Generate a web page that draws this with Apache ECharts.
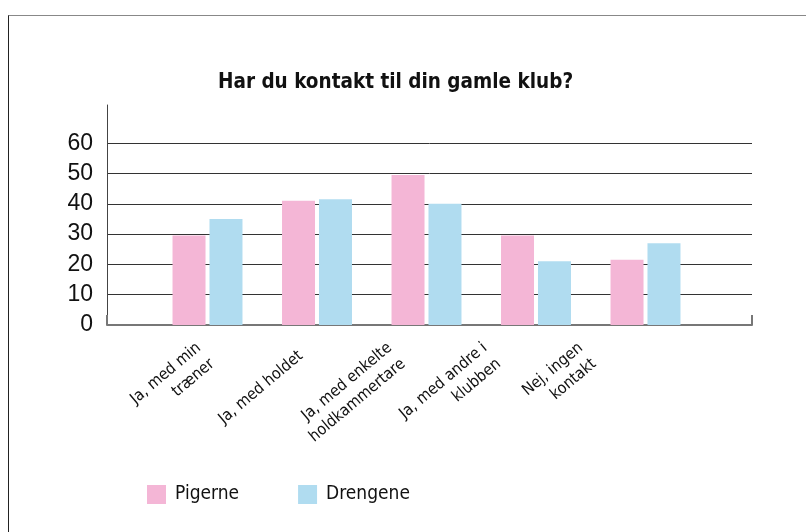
<!DOCTYPE html>
<html>
<head>
<meta charset="utf-8">
<script src="https://cdn.jsdelivr.net/npm/echarts@6/dist/echarts.min.js"></script>
<style>
  html, body { margin: 0; padding: 0; background: #fff; }
  #frame {
    position: absolute; left: 8px; top: 15px; width: 798px; height: 517px;
    border-top: 1px solid #888; border-left: 1px solid #222; box-sizing: border-box;
  }
  #chart { position: absolute; left: 0; top: 0; width: 806px; height: 532px; }
</style>
</head>
<body>
<div id="frame"></div>
<div id="chart"></div>
<script>
const title = 'Har du kontakt til din gamle klub?';
const categories = [
  'Ja, med min\ntræner',
  'Ja, med holdet',
  'Ja, med enkelte\nholdkammertare',
  'Ja, med andre i\nklubben',
  'Nej, ingen\nkontakt'
];
const seriesNames = ['Pigerne', 'Drengene'];
const pigerne = [29.5, 41, 49.5, 29.5, 21.5];
const drengene = [35, 41.5, 40, 21, 27];
const yMin = 0;
const yMax = 72.6;     // axis line runs a bit above the last labelled tick
const yStep = 10;
const yLabelMax = 60;

const narrow = '"DejaVu Sans Condensed", "Liberation Sans", sans-serif';
const plain = '"Liberation Sans", Arial, sans-serif';
const pink = '#f4b6d6';
const blue = '#b0dcf0';

const chart = echarts.init(document.getElementById('chart'));

// grid 0: frame axes + gridlines, grid 1: bars, grid 2: category labels
const option = {
  animation: false,
  textStyle: { fontFamily: narrow },
  title: {
    text: title,
    left: 218,
    top: 72,
    padding: 0,
    textStyle: { fontFamily: narrow, fontWeight: 'bold', fontSize: 20.5, color: '#111' }
  },
  legend: {
    data: seriesNames,
    left: 147,
    top: 485,
    padding: 0,
    icon: 'rect',
    itemWidth: 19,
    itemHeight: 19,
    itemGap: 59,
    textStyle: { fontFamily: narrow, fontSize: 19, color: '#111', padding: [0, 0, 0, 4] }
  },
  grid: [
    { left: 107, right: 54, top: 105, bottom: 207 },
    { left: 152.75, right: 105.75, top: 105, bottom: 207 },
    { left: 157.75, right: 170.75, top: 105, bottom: 207 }
  ],
  xAxis: [
    {
      gridIndex: 0, type: 'value', min: 0, max: 1, interval: 1,
      axisLine: { show: true, lineStyle: { color: '#777', width: 2 } },
      axisTick: { show: true, inside: true, length: 10, lineStyle: { color: '#777', width: 2 } },
      axisLabel: { show: false },
      splitLine: { show: false }
    },
    {
      gridIndex: 1, type: 'category', data: categories,
      axisLine: { show: false }, axisTick: { show: false }, axisLabel: { show: false }
    },
    {
      gridIndex: 2, type: 'category', data: categories,
      axisLine: { show: false }, axisTick: { show: false },
      axisLabel: {
        interval: 0, rotate: 40, margin: 29,
        fontFamily: narrow, fontSize: 16, lineHeight: 21, color: '#111'
      }
    }
  ],
  yAxis: [
    {
      gridIndex: 0, type: 'value', min: yMin, max: yMax, interval: yStep,
      axisLine: { show: true, lineStyle: { color: '#444', width: 1 } },
      axisTick: { show: false },
      axisLabel: {
        margin: 14, fontFamily: plain, fontSize: 23, color: '#111',
        formatter: v => (v <= yLabelMax ? String(v) : '')
      },
      splitLine: {
        show: true,
        showMaxLine: false,
        lineStyle: {
          width: 1,
          color: ['#333', '#333', '#333', '#333', '#333', '#333', '#333', 'rgba(0,0,0,0)', 'rgba(0,0,0,0)']
        }
      }
    },
    { gridIndex: 1, type: 'value', min: yMin, max: yMax, show: false },
    { gridIndex: 2, type: 'value', min: yMin, max: yMax, show: false }
  ],
  series: [
    {
      name: seriesNames[0], type: 'bar', xAxisIndex: 1, yAxisIndex: 1,
      data: pigerne, barWidth: 33, barGap: '12%',
      itemStyle: { color: pink }
    },
    {
      name: seriesNames[1], type: 'bar', xAxisIndex: 1, yAxisIndex: 1,
      data: drengene, barWidth: 33, barGap: '12%',
      itemStyle: { color: blue }
    }
  ]
};

chart.setOption(option);
</script>
</body>
</html>
